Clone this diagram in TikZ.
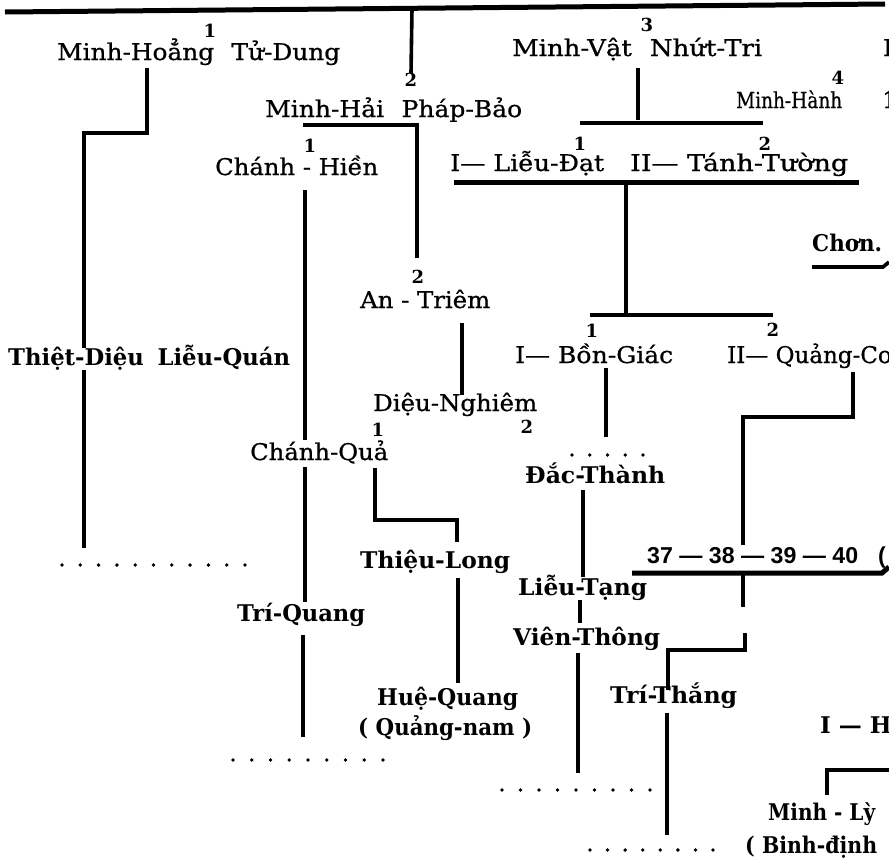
\documentclass[tikz,border=0pt]{standalone}
\usepackage{fontspec}
\usepackage{graphicx}
\setmainfont{DejaVu Serif}
\newfontfamily\medf{DejaVu Serif}[FakeBold=0.7]
\newfontfamily\numfont{Liberation Sans}
\newcommand\bld{\rmfamily\bfseries}
\newsavebox\tbox
\newcommand\fitw[2]{\sbox\tbox{#2}\pgfmathsetmacro\rr{#1/(\the\wd\tbox)}\scalebox{\rr}[1]{\usebox\tbox}}
\newcommand\tx[5]{\node[lbl] (#1) at ({#2},{#3+8}) {\fitw{#4}{#5}};}
\newcommand\dotrow[4]{\foreach \i in {0,...,#4} \fill ({#1+\i*(#2-#1)/#4},#3) circle (1.9);}
\tikzset{
  lbl/.style={inner sep=0pt, anchor=base west, font=\fontsize{23}{23}\selectfont\medf},
  num/.style={inner sep=0pt, font=\fontsize{18}{18}\selectfont\bfseries},
  raw/.style={inner sep=0pt, anchor=base west, font=\fontsize{23}{23}\selectfont\medf},
  ln/.style={line width=3.6pt},
  heavy/.style={line width=5pt},
}
\begin{document}
\begin{tikzpicture}[x=1pt,y=-1pt]
\useasboundingbox (0,0) rectangle (889,860);
\fill[white] (0,0) rectangle (889,860);
\clip (0,0) rectangle (889,860);

% ---------- texts ----------
\node[num] (n1a) at (210,31) {1};
\tx{mhoang}{57}{52}{283}{Minh-Hoẳng\hspace{0.7em}Tử-Dung}
\node[num] (n2a) at (411,80) {2};
\tx{mhai}{265}{109}{257}{Minh-Hải\hspace{0.7em}Pháp-Bảo}
\node[num] (n3a) at (647,25) {3};
\tx{mvat}{512}{48}{250}{Minh-Vật\hspace{0.7em}Nhứt-Tri}
\node[num] (n4a) at (838,78) {4};
\node[lbl,font=\fontsize{22}{22}\selectfont\medf] (mhanh) at (736,108) {\fitw{106}{Minh-Hành}};
\node[raw] (cutA) at (883,56) {I};
\node[raw] (cutB) at (882,108) {1};
\node[num] (n1b) at (310,146) {1};
\tx{chien}{215}{167}{163}{Chánh - Hiền}
\node[num] (n1c) at (580,144) {1};
\node[num] (n2c) at (765,144) {2};
\tx{ldat}{450}{163}{154}{I— Liễu-Đạt}
\tx{ttuong}{630}{163}{218}{II— Tánh-Tường}
\tx{chon}{812}{243}{70}{\bld Chơn.}
\node[num] (n2d) at (418,277) {2};
\tx{atriem}{360}{300}{130}{An - Triêm}
\node[num] (n1e) at (592,331) {1};
\node[num] (n2e) at (773,330) {2};
\tx{bgiac}{515}{355}{158}{I— Bồn-Giác}
\node[raw] (qco) at (727,363) {II— Quảng-Cơ};
\tx{tdieu}{8}{357}{282}{\bld Thiệt-Diệu\hspace{0.6em}Liễu-Quán}
\tx{dnghiem}{373}{403}{164}{Diệu-Nghiêm}
\node[num] (n1f) at (378,430) {1};
\node[num] (n2f) at (527,427) {2};
\tx{cqua}{250}{452}{138}{Chánh-Quả}
\tx{dthanh}{525}{475}{140}{\bld Đắc-Thành}
\tx{tlong}{360}{560}{150}{\bld Thiệu-Long}
\tx{nums}{647}{555}{211}{\numfont\bfseries 37 — 38 — 39 — 40}
\node[raw,font=\fontsize{23}{23}\selectfont\numfont\bfseries] (paren) at (878,563) {(};
\tx{ltang}{518}{587}{129}{\bld Liễu-Tạng}
\tx{tquang}{237}{613}{128}{\bld Trí-Quang}
\tx{vthong}{513}{637}{147}{\bld Viên-Thông}
\tx{tthang}{610}{695}{127}{\bld Trí-Thắng}
\tx{hquang}{377}{697}{141}{\bld Huệ-Quang}
\tx{qnam}{358}{727}{174}{\bld ( Quảng-nam )}
\node[raw,font=\fontsize{23}{23}\selectfont\bld] (hu) at (820,733) {I — Hư};
\tx{mly}{768}{812}{107}{\bld Minh - Lỳ}
\tx{bdinh}{745}{845}{132}{\bld ( Binh-định}

% ---------- dotted continuations ----------
\dotrow{62}{245}{565}{10}
\dotrow{233}{383}{760}{8}
\dotrow{502}{650}{790}{8}
\dotrow{590}{713}{850}{7}
\dotrow{572}{643}{455}{4}

% ---------- connectors ----------
\coordinate (topL) at (5,12);
\coordinate (topR) at (885,4);
\draw[heavy] (topL) -- (topR);
\draw[ln] (412,9) -- (n2a.north);
% Minh-Hoang line
\coordinate (mh1) at (147,133);
\coordinate (mh2) at (84,133);
\draw[ln] (147,68) -- (mh1) -- (mh2) -- (84,348);
\draw[ln] (84,370) -- (84,548);
% Minh-Hai bracket
\coordinate (mb1) at (303,125);
\coordinate (mb2) at (417,125);
\draw[ln] (mb1) -- (mb2) -- (417,258);
% Chanh-Hien stems
\draw[ln] (305,190) -- (305,440);
\draw[ln] (305,467) -- (305,602);
\draw[ln] (303,635) -- (303,737);
% An-Triem
\draw[ln] (462,323) -- (462,395);
% Chanh-Qua -> Thieu-Long
\coordinate (tl1) at (375,520);
\coordinate (tl2) at (457,520);
\draw[ln] (375,468) -- (tl1) -- (tl2) -- (457,542);
\draw[ln] (458,578) -- (458,683);
% Minh-Vat
\draw[ln] (638,68) -- (638,120);
\draw[ln] (580,123) -- (763,123);
% thick line under Lieu-Dat
\draw[heavy] (454,182) -- (859,182);
\draw[ln] (626,182) -- (626,315);
\draw[ln] (590,315) -- (773,315);
% Chon line
\draw[ln] (812,267) -- (883,267) -- (889,262);
% Bon-Giac
\draw[ln] (606,368) -- (606,437);
% Quang-Co
\coordinate (q1) at (853,417);
\coordinate (q2) at (743,417);
\draw[ln] (853,372) -- (q1) -- (q2) -- (743,545);
% 37-40 line
\draw[heavy] (632,573) -- (882,573) -- (889,567);
\draw[ln] (743,573) -- (743,607);
\coordinate (t1) at (745,650);
\coordinate (t2) at (668,650);
\draw[ln] (745,633) -- (t1) -- (t2) -- (668,690);
\draw[ln] (667,713) -- (667,835);
% Dac-Thanh line
\draw[ln] (583,490) -- (583,577);
\draw[ln] (580,600) -- (580,623);
\draw[ln] (578,653) -- (578,773);
% Minh-Ly bracket
\coordinate (ml1) at (827,770);
\draw[ln] (827,795) -- (ml1) -- (889,770);
\end{tikzpicture}
\end{document}
